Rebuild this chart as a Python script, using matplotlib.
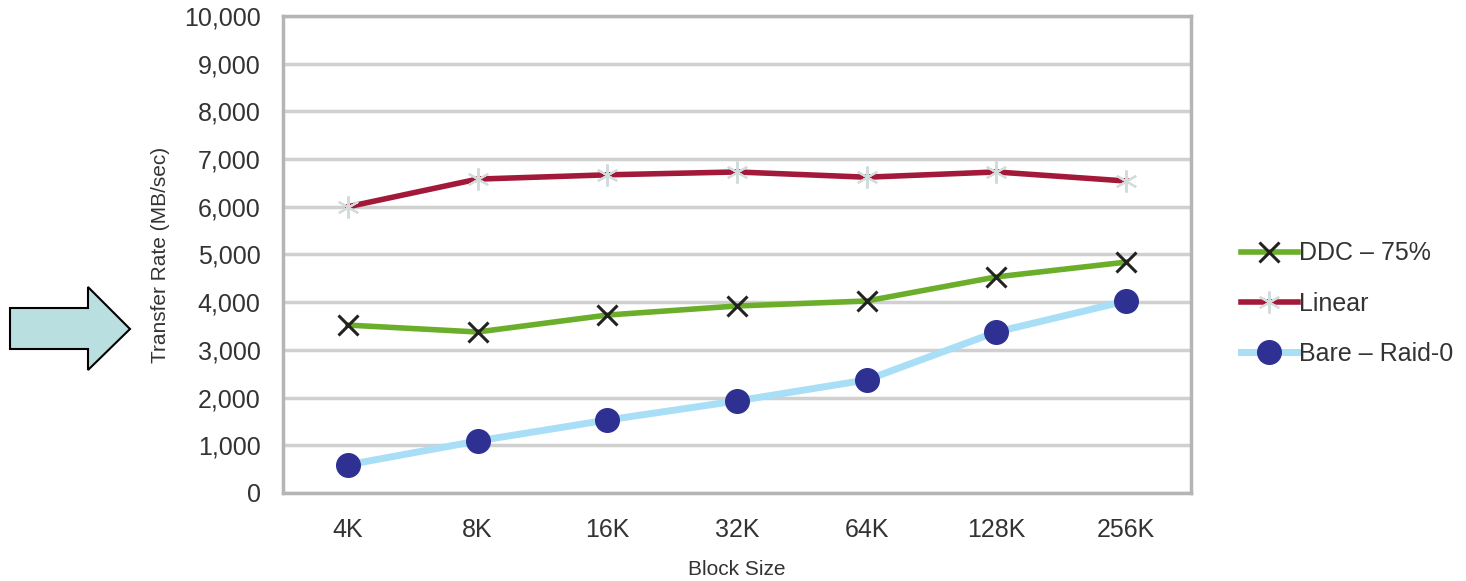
import numpy as np
import matplotlib.pyplot as plt
from matplotlib.patches import Polygon

plt.rcParams['font.family'] = ['Liberation Sans', 'DejaVu Sans']

block_sizes = ['4K', '8K', '16K', '32K', '64K', '128K', '256K']
ddc_75 = [3520, 3375, 3730, 3920, 4025, 4530, 4840]
linear = [6000, 6580, 6670, 6730, 6620, 6730, 6540]
bare_raid0 = [590, 1090, 1530, 1930, 2370, 3375, 4025]
y_ticks = np.arange(0, 10001, 1000)

fig = plt.figure(figsize=(14.66, 5.81), dpi=100)
ax = fig.add_axes([0.193, 0.1515, 0.6194, 0.821])

x = np.arange(len(block_sizes))

ax.plot(x, ddc_75, color='#6aae2a', lw=4, marker='x', ms=14, mew=2.2,
        mec='#222222', label='DDC \u2013 75%', zorder=3)
ax.plot(x, linear, color='#a3193a', lw=4, marker=(6, 2, 0), ms=16, mew=1.5,
        mec='#d3dcdc', label='Linear', zorder=3)
ax.plot(x, bare_raid0, color='#a9def7', lw=5, marker='o', ms=17,
        mfc='#2e3192', mec='#2e3192', label='Bare \u2013 Raid-0', zorder=3)

ax.set_xlim(-0.5, len(block_sizes) - 0.5)
ax.set_ylim(0, 10000)
ax.set_xticks(x)
ax.set_xticklabels(block_sizes)
ax.set_yticks(y_ticks)
ax.set_yticklabels(['{:,}'.format(v) for v in y_ticks])
ax.tick_params(length=0, labelsize=18, labelcolor='#333333')
ax.tick_params(axis='x', pad=18)
ax.tick_params(axis='y', pad=16)

ax.grid(axis='y', color='#d0d0d0', lw=2.5)
ax.set_axisbelow(True)
for s in ax.spines.values():
    s.set_color('#b5b5b5')
    s.set_linewidth(2.5)

ax.set_ylabel('Transfer Rate (MB/sec)', fontsize=15, color='#333333', labelpad=10)
ax.set_xlabel('Block Size', fontsize=15, color='#333333', labelpad=13)

ax.legend(loc='center left', bbox_to_anchor=(1.03, 0.397), frameon=False,
          fontsize=18, handlelength=2.3, handletextpad=0.05, labelspacing=1.05,
          labelcolor='#333333')

# arrow pointing at the y axis
arrow_px = [(10, 308), (88, 308), (88, 287), (130, 329), (88, 370),
            (88, 349), (10, 349)]
W, H = 1466, 581
arrow = Polygon([(px / W, 1 - py / H) for px, py in arrow_px], closed=True,
                transform=fig.transFigure, facecolor='#b9dfe0',
                edgecolor='black', lw=1.5)
fig.patches.append(arrow)

fig.savefig('out.png', dpi=100)
